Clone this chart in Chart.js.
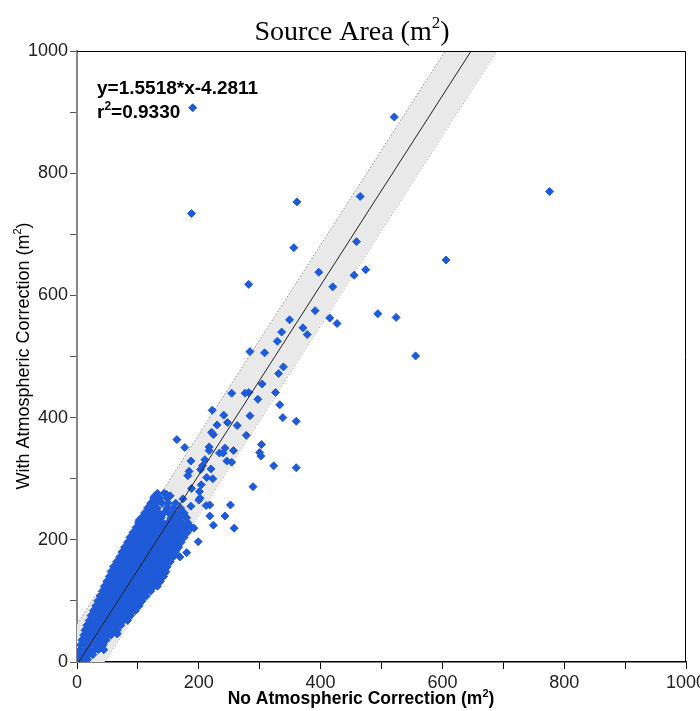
<!DOCTYPE html>
<html>
<head>
<meta charset="utf-8">
<script src="https://cdn.jsdelivr.net/npm/chart.js@4/dist/chart.umd.min.js"></script>
<style>
  html, body { margin: 0; padding: 0; background: #fff; }
  #wrap { width: 700px; height: 711px; }
</style>
</head>
<body>
<div id="wrap"><canvas id="chart" width="700" height="711"></canvas></div>
<script>
// regression shown on the chart
var fitSlope = 1.5518;
var fitIntercept = -4.2811;
var bandHalf = 66;            // half height of the grey band (y units)
var fitXs = [0, 1000];

// dense core of the cloud, one row per y value
var coreRowsY = [4, 12, 20, 28, 36, 44, 52, 60, 68, 76, 84, 92, 100, 108, 116, 124, 132, 140, 148, 156,
                 164, 172, 180, 188, 196, 204, 212, 220, 228, 236, 244, 252, 260, 268, 276];
var coreRowsX = [
  [3, 11, 17],
  [3, 11, 19, 26],
  [5, 13, 21, 29, 35],
  [6, 14, 22, 30, 38, 43],
  [8, 16, 24, 32, 40, 48],
  [11, 19, 27, 35, 43, 51, 56],
  [13, 21, 29, 37, 45, 53, 61, 66],
  [16, 24, 32, 40, 48, 56, 64, 72],
  [20, 28, 36, 44, 52, 60, 68, 76, 83],
  [23, 31, 39, 47, 55, 63, 71, 79, 88],
  [27, 35, 43, 51, 59, 67, 75, 83, 91, 96],
  [31, 39, 47, 55, 63, 71, 79, 87, 95, 102],
  [34, 42, 50, 58, 66, 74, 82, 90, 98, 107],
  [38, 46, 54, 62, 70, 78, 86, 94, 102, 110, 114],
  [42, 50, 58, 66, 74, 82, 90, 98, 106, 114, 121],
  [45, 53, 61, 69, 77, 85, 93, 101, 109, 117, 125, 132],
  [49, 57, 65, 73, 81, 89, 97, 105, 113, 121, 129, 137],
  [53, 61, 69, 77, 85, 93, 101, 109, 117, 125, 133, 142],
  [56, 64, 72, 80, 88, 96, 104, 112, 120, 128, 136, 146],
  [60, 68, 76, 84, 92, 100, 108, 116, 124, 132, 140, 148],
  [65, 73, 81, 89, 97, 105, 113, 121, 129, 137, 145, 153],
  [70, 78, 86, 94, 102, 110, 118, 126, 134, 142, 150, 158],
  [74, 82, 90, 98, 106, 114, 122, 130, 138, 146, 154, 162],
  [78, 86, 94, 102, 110, 118, 126, 134, 142, 150, 158, 167],
  [83, 91, 99, 107, 115, 123, 131, 139, 147, 155, 163, 171],
  [87, 95, 103, 111, 119, 127, 135, 143, 151, 159, 167, 176],
  [92, 100, 108, 116, 124, 132, 140, 148, 156, 164, 172, 181],
  [97, 105, 113, 121, 129, 137, 145, 153, 161, 169, 178, 188],
  [101, 109, 117, 125, 133, 141, 149, 157, 165, 173, 182],
  [106, 114, 122, 130, 138, 154, 162, 170, 180],
  [111, 119, 127, 135, 143, 151, 159, 167, 176],
  [116, 124, 132, 148, 158, 170],
  [121, 130, 140, 150, 162],
  [126, 136, 148],
  [132, 143]
];

// scattered points outside the core
var spreadPts = [
  [190, 907], [521, 892], [776, 770], [188, 734], [361, 753], [465, 762], [459, 688], [356, 678],
  [606, 658], [397, 638], [474, 642], [455, 633], [282, 618], [420, 614],
  [391, 575], [349, 560], [415, 563], [427, 554], [494, 570], [524, 564], [556, 501], [371, 547],
  [378, 536], [336, 540], [329, 525], [284, 508], [308, 506], [339, 483], [331, 472], [304, 455],
  [254, 440], [276, 440], [282, 441], [326, 441], [297, 430], [333, 421], [338, 400], [360, 394],
  [284, 403], [360, 318], [222, 412], [241, 404], [247, 392], [263, 387], [230, 388], [221, 376],
  [224, 372], [278, 371], [164, 364], [177, 351], [217, 352], [217, 346], [243, 350], [257, 346],
  [234, 342], [240, 342], [303, 356], [300, 343], [302, 337], [323, 321], [187, 329], [210, 331],
  [246, 329], [254, 327], [206, 321], [203, 315], [184, 312], [182, 305], [220, 316], [213, 302],
  [223, 300], [289, 287], [188, 284], [204, 290], [201, 279], [127, 271], [147, 274], [153, 272],
  [174, 267], [202, 268], [200, 265], [252, 257], [218, 257], [212, 256], [187, 255], [218, 239],
  [243, 239], [224, 224], [258, 219], [199, 197], [192, 219], [102, 232], [114, 241], [120, 256],
  [124, 262], [99, 219], [180, 179], [169, 172], [160, 174], [144, 145], [133, 135], [141, 140],
  [125, 123], [62, 50], [66, 46], [40, 24], [44, 20], [38, 25], [65, 47]
];

var xTicks = [0, 200, 400, 600, 800, 1000];
var yTicks = [0, 200, 400, 600, 800, 1000];

var ptColor = '#1f5ad8';

// build the point table
var cloud = [];
for (var i = 0; i < coreRowsY.length; i++) {
  coreRowsX[i].forEach(function (x) { cloud.push({ x: x, y: coreRowsY[i] }); });
}
spreadPts.forEach(function (p) { cloud.push({ x: p[0], y: p[1] }); });

var fitLine = fitXs.map(function (x) { return { x: x, y: fitSlope * x + fitIntercept }; });
var bandUp = fitXs.map(function (x) { return { x: x, y: fitSlope * x + fitIntercept + bandHalf }; });
var bandLow = fitXs.map(function (x) { return { x: x, y: fitSlope * x + fitIntercept - bandHalf }; });

// text with a raised "2"
function supText(ctx, parts, x, y, size, weight, family, align) {
  var small = Math.round(size * 0.62);
  var w = 0;
  parts.forEach(function (p) {
    ctx.font = weight + ' ' + (p[1] ? small : size) + 'px ' + family;
    w += ctx.measureText(p[0]).width;
  });
  var cx = align === 'center' ? x - w / 2 : x;
  ctx.textAlign = 'left';
  ctx.textBaseline = 'alphabetic';
  parts.forEach(function (p) {
    ctx.font = weight + ' ' + (p[1] ? small : size) + 'px ' + family;
    ctx.fillText(p[0], cx, p[1] ? y - size * 0.42 : y);
    cx += ctx.measureText(p[0]).width;
  });
}

var decor = {
  id: 'decor',
  afterDraw: function (chart) {
    var ctx = chart.ctx, a = chart.chartArea;
    ctx.save();
    // frame on top and right
    ctx.strokeStyle = '#000';
    ctx.lineWidth = 1;
    ctx.beginPath();
    ctx.moveTo(a.left, a.top + 0.5);
    ctx.lineTo(a.right - 0.5, a.top + 0.5);
    ctx.lineTo(a.right - 0.5, a.bottom);
    ctx.stroke();

    ctx.fillStyle = '#000';
    supText(ctx, [['Source Area (m', false], ['2', true], [')', false]], 352, 40, 28, 'normal',
      '"Liberation Serif", "Times New Roman", serif', 'center');

    var sans = '"Liberation Sans", Arial, sans-serif';
    supText(ctx, [['y=1.5518*x-4.2811', false]], 97, 94, 19, 'bold', sans, 'left');
    supText(ctx, [['r', false], ['2', true], ['=0.9330', false]], 97, 118, 19, 'bold', sans, 'left');

    supText(ctx, [['No Atmospheric Correction (m', false], ['2', true], [')', false]], 361, 704, 17.5, 'bold', sans, 'center');

    ctx.translate(29, 356);
    ctx.rotate(-Math.PI / 2);
    supText(ctx, [['With Atmospheric Correction (m', false], ['2', true], [')', false]], 0, 0, 18, 'normal', sans, 'center');
    ctx.restore();
  }
};

var tickFont = { family: '"Liberation Sans", Arial, sans-serif', size: 18 };

new Chart(document.getElementById('chart'), {
  type: 'scatter',
  data: {
    datasets: [
      {
        type: 'line', data: fitLine, borderColor: '#222', borderWidth: 1,
        pointRadius: 0, fill: false, order: 0
      },
      {
        data: cloud, pointStyle: 'rectRot', pointRadius: 4, borderWidth: 1,
        backgroundColor: ptColor, borderColor: ptColor, order: 1
      },
      {
        type: 'line', data: bandUp, borderColor: '#8a8a8a', borderWidth: 1, borderDash: [1.5, 2],
        pointRadius: 0, fill: '+1', backgroundColor: '#e9e9e9', order: 2
      },
      {
        type: 'line', data: bandLow, borderColor: '#8a8a8a', borderWidth: 1, borderDash: [1.5, 2],
        pointRadius: 0, fill: false, order: 3
      }
    ]
  },
  options: {
    responsive: false,
    animation: false,
    layout: { padding: { left: 0, right: 14, top: 51, bottom: 0 } },
    plugins: { legend: { display: false }, tooltip: { enabled: false }, title: { display: false } },
    scales: {
      x: {
        type: 'linear', min: 0, max: 1000,
        ticks: {
          stepSize: 100, autoSkip: false, maxRotation: 0, color: '#222', font: tickFont, padding: 3,
          callback: function (v) { return xTicks.indexOf(v) >= 0 ? String(v) : ''; }
        },
        grid: { drawOnChartArea: false, tickLength: 7, color: '#000', tickWidth: 1 },
        border: { color: '#000', width: 1.5 },
        afterFit: function (s) { s.height = 49; s.paddingRight = 0; s.paddingLeft = 0; }
      },
      y: {
        type: 'linear', min: 0, max: 1000,
        ticks: {
          stepSize: 100, autoSkip: false, color: '#222', font: tickFont, padding: 2,
          callback: function (v) { return yTicks.indexOf(v) >= 0 ? String(v) : ''; }
        },
        grid: { drawOnChartArea: false, tickLength: 7, color: '#555', tickWidth: 1 },
        border: { color: '#888', width: 2 },
        afterFit: function (s) { s.width = 77; s.paddingTop = 0; s.paddingBottom = 0; }
      }
    }
  },
  plugins: [decor]
});
</script>
</body>
</html>
